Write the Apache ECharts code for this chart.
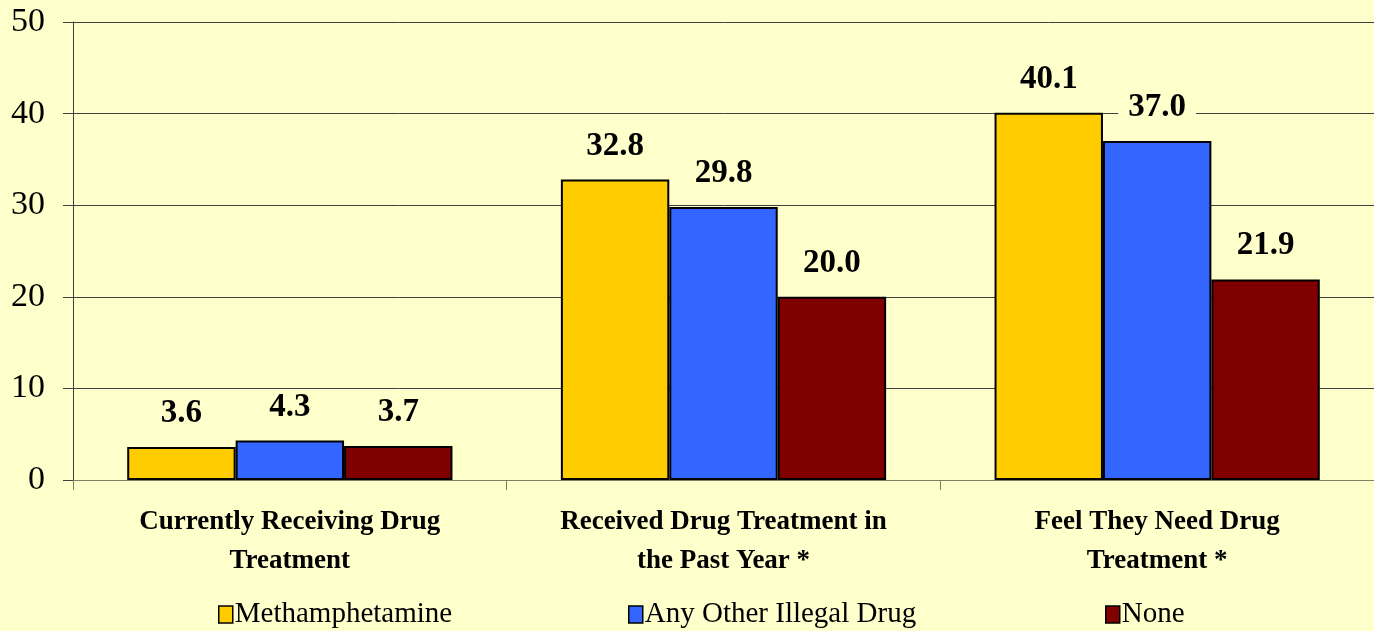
<!DOCTYPE html>
<html>
<head>
    <meta charset="utf-8">
    <title>Drug treatment chart</title>
    <script src="https://cdn.jsdelivr.net/npm/echarts@6/dist/echarts.min.js"></script>
</head>
<body style="margin: 0; padding: 0; background: #FFFFCC;">
<div id="main" style="width: 1374px; height: 631px;"></div>
<script type="text/javascript">
    // data
    var categories = ['Currently Receiving Drug\nTreatment', 'Received Drug Treatment in\nthe Past Year *', 'Feel They Need Drug\nTreatment *'];
    var seriesNames = ['Methamphetamine', 'Any Other Illegal Drug', 'None'];
    var methValues = [3.6, 32.8, 40.1];
    var otherValues = [4.3, 29.8, 37.0];
    var noneValues = [3.7, 20.0, 21.9];
    var colors = ['#FFCC00', '#3366FF', '#800000'];

    var bg = '#FFFFCC';
    var serif = '"Liberation Serif", "Times New Roman", serif';

    function makeSeries(name, data, color) {
        return {
            name: name,
            type: 'bar',
            data: data,
            barGap: '0%',
            barCategoryGap: '25%',
            itemStyle: { color: color, borderColor: '#000', borderWidth: 2 },
            label: {
                show: true,
                position: 'top',
                distance: 17,
                formatter: function (p) { return p.value.toFixed(1); },
                fontFamily: serif,
                fontWeight: 'bold',
                fontSize: 33,
                color: '#000',
                backgroundColor: bg,
                padding: [0, 10]
            }
        };
    }

    function legendAt(left, name) {
        return {
            left: left,
            top: 595,
            data: [name],
            icon: 'rect',
            itemWidth: 14,
            itemHeight: 17,
            itemGap: 6,
            itemStyle: { borderColor: '#000', borderWidth: 1.5 },
            textStyle: { fontFamily: serif, fontSize: 29, color: '#000', padding: [0, 0, 0, -3] }
        };
    }

    var myChart = echarts.init(document.getElementById('main'));

    var option = {
        backgroundColor: bg,
        animation: false,
        grid: { left: 73, right: 0, top: 22, bottom: 151, containLabel: false },
        legend: [
            legendAt(213, seriesNames[0]),
            legendAt(623, seriesNames[1]),
            legendAt(1100, seriesNames[2])
        ],
        xAxis: {
            type: 'category',
            data: categories,
            axisLine: { lineStyle: { color: '#808060', width: 1 } },
            axisTick: { show: true, length: 10, lineStyle: { color: '#808060' } },
            axisLabel: {
                fontFamily: serif,
                fontWeight: 'bold',
                fontSize: 27,
                color: '#000',
                lineHeight: 39,
                margin: 23
            }
        },
        yAxis: {
            type: 'value',
            min: 0,
            max: 50,
            interval: 10,
            axisLine: { show: true, lineStyle: { color: '#404040', width: 1 } },
            axisTick: { show: true, length: 10, lineStyle: { color: '#404040' } },
            splitLine: { lineStyle: { color: '#404040', width: 1 } },
            axisLabel: { fontFamily: serif, fontSize: 34, color: '#000', margin: 28 }
        },
        series: [
            makeSeries(seriesNames[0], methValues, colors[0]),
            makeSeries(seriesNames[1], otherValues, colors[1]),
            makeSeries(seriesNames[2], noneValues, colors[2])
        ]
    };

    myChart.setOption(option);
</script>
</body>
</html>
